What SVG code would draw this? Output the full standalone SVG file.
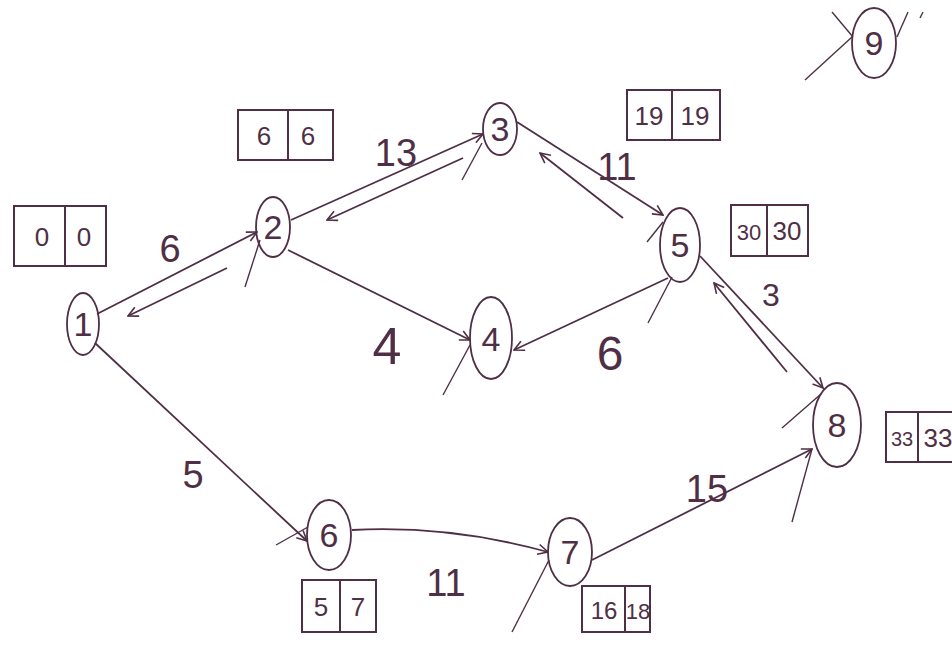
<svg xmlns="http://www.w3.org/2000/svg" width="952" height="648" viewBox="0 0 952 648">
<defs>
<marker id="arr" viewBox="0 0 12 12" refX="11" refY="6" markerWidth="12" markerHeight="12" markerUnits="userSpaceOnUse" orient="auto">
<path d="M1,1 L11,6 L1,11" fill="none" stroke="#4f2f45" stroke-width="1.6"/>
</marker>
</defs>
<style>
.n{fill:none;stroke:#4f2f45;stroke-width:1.8}
.e{fill:none;stroke:#4f2f45;stroke-width:1.8;marker-end:url(#arr)}
.s{fill:none;stroke:#4f2f45;stroke-width:1.4}
.b{fill:none;stroke:#4f2f45;stroke-width:2}
.t{font-family:"Liberation Sans",Arial,sans-serif;fill:#4f2f45;text-anchor:middle}
.nl{font-size:34px}
.el{font-size:38px}
.bl{font-size:26px}
</style>
<rect width="952" height="648" fill="#ffffff"/>
<g id="connectors">
<line class="e" x1="97" y1="314" x2="257" y2="232"/>
<line class="e" x1="227" y1="268" x2="128" y2="316"/>
<line class="e" x1="291" y1="220" x2="483" y2="134"/>
<line class="e" x1="463" y1="158" x2="327" y2="220"/>
<line class="e" x1="517" y1="122" x2="663" y2="215"/>
<line class="e" x1="623" y1="218" x2="540" y2="153"/>
<line class="e" x1="288" y1="250" x2="470" y2="340"/>
<line class="e" x1="668" y1="278" x2="514" y2="350"/>
<line class="e" x1="700" y1="256" x2="823" y2="388"/>
<line class="e" x1="787" y1="372" x2="714" y2="283"/>
<line class="e" x1="95" y1="343" x2="307" y2="541"/>
<path class="e" d="M352,530 Q450,525 548,552"/>
<line class="e" x1="592" y1="560" x2="812" y2="449"/>
<line class="s" x1="245" y1="287" x2="260" y2="240"/>
<line class="s" x1="462" y1="180" x2="482" y2="143"/>
<line class="s" x1="647" y1="242" x2="663" y2="222"/>
<line class="s" x1="648" y1="323" x2="672" y2="277"/>
<line class="s" x1="443" y1="395" x2="470" y2="345"/>
<line class="s" x1="276" y1="545" x2="308" y2="527"/>
<line class="s" x1="512" y1="632" x2="549" y2="560"/>
<line class="s" x1="792" y1="522" x2="812" y2="449"/>
<line class="s" x1="782" y1="428" x2="821" y2="394"/>
<line class="s" x1="805" y1="80" x2="852" y2="37"/>
<line class="s" x1="832" y1="12" x2="853" y2="37"/>
<line class="s" x1="897" y1="37" x2="908" y2="12"/>
<line class="s" x1="920" y1="18" x2="923" y2="12"/>
</g>
<g id="node1"><ellipse class="n" cx="83" cy="324" rx="16" ry="31"/><text class="t nl" x="83" y="336">1</text></g>
<g id="node2"><ellipse class="n" cx="273" cy="227" rx="17" ry="30"/><text class="t nl" x="273" y="239">2</text></g>
<g id="node3"><ellipse class="n" cx="500" cy="129" rx="17" ry="26"/><text class="t nl" x="500" y="141">3</text></g>
<g id="node4"><ellipse class="n" cx="491" cy="338" rx="21" ry="41"/><text class="t nl" x="491" y="351">4</text></g>
<g id="node5"><ellipse class="n" cx="680" cy="245" rx="20" ry="37"/><text class="t nl" x="680" y="257">5</text></g>
<g id="node6"><ellipse class="n" cx="329" cy="535" rx="22" ry="35"/><text class="t nl" x="329" y="547">6</text></g>
<g id="node7"><ellipse class="n" cx="570" cy="552" rx="22" ry="34"/><text class="t nl" x="570" y="564">7</text></g>
<g id="node8"><ellipse class="n" cx="837" cy="425" rx="24" ry="42"/><text class="t nl" x="837" y="437">8</text></g>
<g id="node9"><ellipse class="n" cx="874" cy="43" rx="22" ry="35"/><text class="t nl" x="874" y="55">9</text></g>
<g id="labels">
<text class="t el" x="170" y="262">6</text>
<text class="t el" x="396" y="166">13</text>
<text class="t el" x="617" y="180">11</text>
<text class="t el" x="387" y="364" style="font-size:52px">4</text>
<text class="t el" x="610" y="370" style="font-size:48px">6</text>
<text class="t el" x="771" y="306" style="font-size:32px">3</text>
<text class="t el" x="193" y="488">5</text>
<text class="t el" x="446" y="596">11</text>
<text class="t el" x="707" y="502">15</text>
</g>
<g id="box1"><rect class="b" x="14" y="206" width="92" height="60"/><line class="b" x1="65" y1="206" x2="65" y2="266"/><text class="t bl" x="42" y="246">0</text><text class="t bl" x="84" y="246">0</text></g>
<g id="box2"><rect class="b" x="238" y="110" width="95" height="50"/><line class="b" x1="288" y1="110" x2="288" y2="160"/><text class="t bl" x="264" y="145">6</text><text class="t bl" x="308" y="145">6</text></g>
<g id="box3"><rect class="b" x="627" y="90" width="93" height="50"/><line class="b" x1="672" y1="90" x2="672" y2="140"/><text class="t bl" x="649" y="125">19</text><text class="t bl" x="695" y="125">19</text></g>
<g id="box5"><rect class="b" x="731" y="205" width="77" height="51"/><line class="b" x1="767" y1="205" x2="767" y2="256"/><text class="t bl" x="749" y="240" style="font-size:22px">30</text><text class="t bl" x="787" y="240">30</text></g>
<g id="box8"><rect class="b" x="886" y="412" width="80" height="50"/><line class="b" x1="918" y1="412" x2="918" y2="462"/><text class="t bl" x="902" y="446" style="font-size:20px">33</text><text class="t bl" x="938" y="447">33</text></g>
<g id="box6"><rect class="b" x="302" y="580" width="74" height="52"/><line class="b" x1="340" y1="580" x2="340" y2="632"/><text class="t bl" x="321" y="616">5</text><text class="t bl" x="358" y="616">7</text></g>
<g id="box7"><rect class="b" x="582" y="586" width="68" height="46"/><line class="b" x1="625" y1="586" x2="625" y2="632"/><text class="t bl" x="604" y="619" style="font-size:24px">16</text><text class="t bl" x="638" y="619" style="font-size:22px">18</text></g>
</svg>
